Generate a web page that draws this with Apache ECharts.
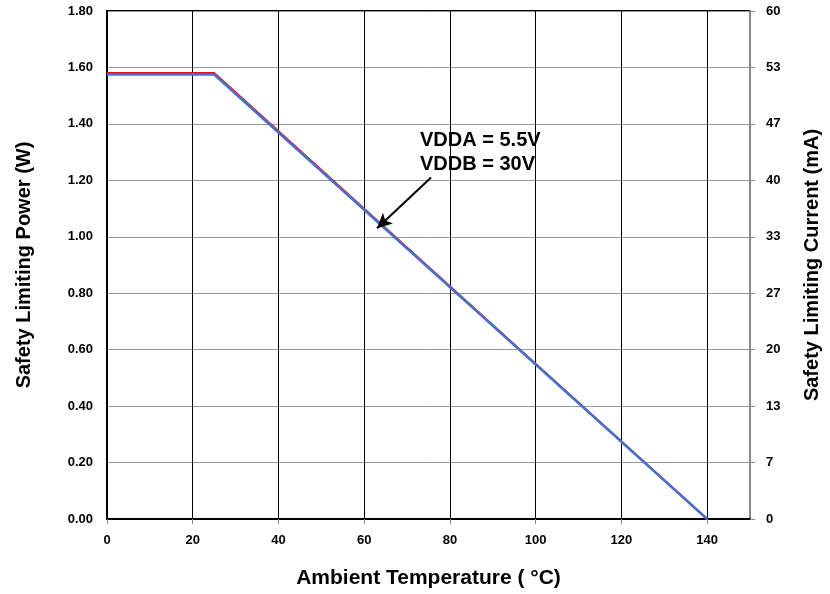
<!DOCTYPE html>
<html><head><meta charset="utf-8">
<script src="https://cdn.jsdelivr.net/npm/echarts@6/dist/echarts.min.js"></script>
<style>html,body{margin:0;padding:0;background:#fff}#c{width:830px;height:594px}</style>
</head><body><div id="c"></div>
<script>
const temps = [0, 25, 140];
const powerW = [1.58, 1.58, 0];
const currentMA = [52.5, 52.5, 0];
const annotationText = 'VDDA = 5.5V\nVDDB = 30V';
const arrowFrom = [75.6, 1.21];
const arrowTo = [63.0, 1.03];

const F = 'Liberation Sans, Arial, sans-serif';
const chart = echarts.init(document.getElementById('c'));
chart.setOption({
  animation: false,
  grid: {left: 107, right: 80, top: 11, bottom: 74, show: true, borderColor: '#000', borderWidth: 2},
  xAxis: {
    type: 'value', min: 0, max: 150, interval: 20,
    name: 'Ambient Temperature ( °C)', nameLocation: 'middle', nameGap: 49,
    nameTextStyle: {fontFamily: F, fontWeight: 'bold', fontSize: 21, color: '#000'},
    axisLine: {lineStyle: {color: '#000', width: 2}},
    axisTick: {show: true, length: 5, lineStyle: {color: '#888'}},
    axisLabel: {fontFamily: F, fontWeight: 'bold', fontSize: 13, color: '#000', margin: 15, showMaxLabel: false},
    splitLine: {lineStyle: {color: '#000', width: 1}}
  },
  yAxis: [{
    type: 'value', min: 0, max: 1.8, interval: 0.2,
    name: 'Safety Limiting Power (W)', nameLocation: 'middle', nameGap: 73,
    nameTextStyle: {fontFamily: F, fontWeight: 'bold', fontSize: 20, color: '#000'},
    axisLine: {show: true, lineStyle: {color: '#000', width: 2}},
    axisTick: {show: false},
    axisLabel: {fontFamily: F, fontWeight: 'bold', fontSize: 13, color: '#000', margin: 14,
      formatter: v => v.toFixed(2)},
    splitLine: {lineStyle: {color: '#999', width: 1}}
  }, {
    type: 'value', min: 0, max: 60, interval: 20 / 3, position: 'right',
    name: 'Safety Limiting Current (mA)', nameLocation: 'middle', nameGap: 52, nameRotate: 90,
    nameTextStyle: {fontFamily: F, fontWeight: 'bold', fontSize: 20, color: '#000'},
    axisLine: {show: true, lineStyle: {color: '#888', width: 2}},
    axisTick: {show: true, length: 5, lineStyle: {color: '#888'}},
    axisLabel: {fontFamily: F, fontWeight: 'bold', fontSize: 13, color: '#000', margin: 16,
      formatter: v => String(Math.round(v))},
    splitLine: {show: false}
  }],
  series: [{
    type: 'line', yAxisIndex: 0, symbol: 'none',
    data: temps.map((t, i) => [t, powerW[i]]),
    lineStyle: {color: '#e3101c', width: 2}, z: 3,
    markLine: {
      silent: true, symbol: ['none', 'arrow'], symbolSize: [11, 15],
      lineStyle: {color: '#000', width: 2, type: 'solid'}, label: {show: false},
      data: [[{coord: arrowFrom}, {coord: arrowTo}]]
    }
  }, {
    type: 'line', yAxisIndex: 1, symbol: 'none',
    data: temps.map((t, i) => [t, currentMA[i]]),
    lineStyle: {color: '#4a70c6', width: 2.5}, z: 4
  }],
  graphic: [{
    type: 'text', left: 420, top: 128, z: 10,
    style: {text: annotationText, font: 'bold 20px ' + F, fill: '#000', lineHeight: 24}
  }]
});
</script></body></html>
